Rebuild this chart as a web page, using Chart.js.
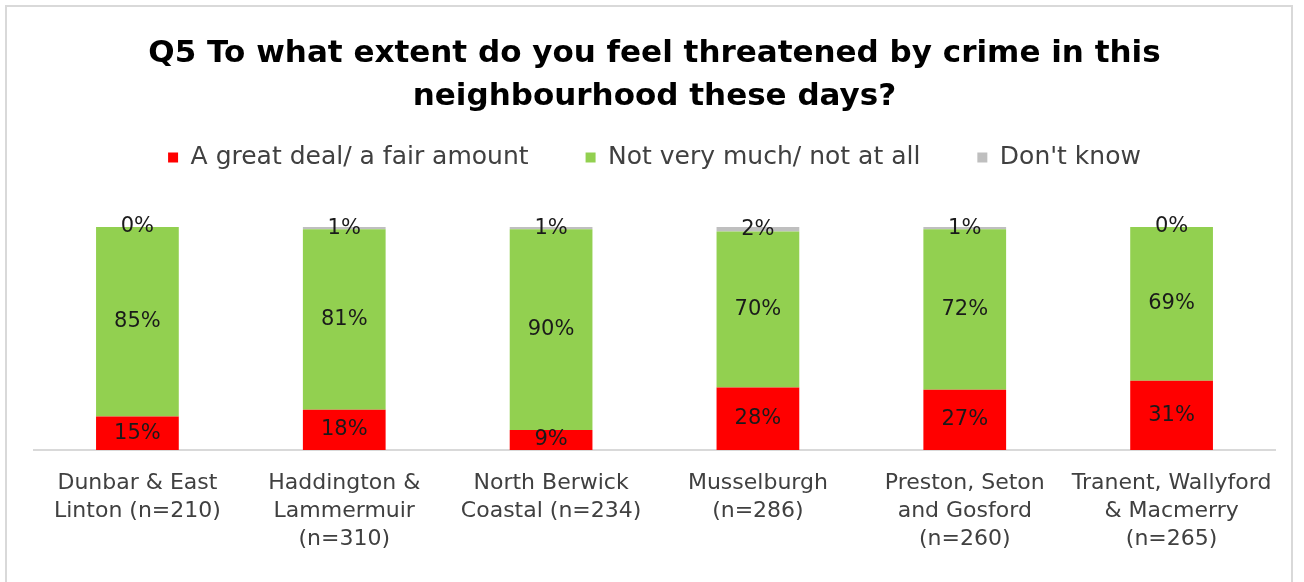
<!DOCTYPE html>
<html>
<head>
<meta charset="utf-8">
<script src="https://cdn.jsdelivr.net/npm/chart.js@4.4.1/dist/chart.umd.min.js"></script>
<style>
  html, body { margin: 0; padding: 0; background: #fff; overflow: hidden; }
  #frame {
    position: absolute; left: 5px; top: 5px; width: 1288px; height: 640px;
    border: 2px solid #d9d9d9; box-sizing: border-box;
  }
  #wrap { position: absolute; left: 0; top: 0; width: 1304px; height: 582px; }
</style>
</head>
<body>
<div id="frame"></div>
<div id="wrap"><canvas id="chart"></canvas></div>
<script>
// Areas surveyed (wrapped across lines as in the report)
const areas = [
  ['Dunbar & East', 'Linton (n=210)'],
  ['Haddington &', 'Lammermuir', '(n=310)'],
  ['North Berwick', 'Coastal (n=234)'],
  ['Musselburgh', '(n=286)'],
  ['Preston, Seton', 'and Gosford', '(n=260)'],
  ['Tranent, Wallyford', '& Macmerry', '(n=265)']
];

// Percentages per response
const greatDeal = [15, 18, 9, 28, 27, 31];
const notMuch   = [85, 81, 90, 70, 72, 69];
const dontKnow  = [0, 1, 1, 2, 1, 0];

const fontFamily = '"DejaVu Sans", sans-serif';

// Print the percentage in the middle of each bar segment
const segmentLabels = {
  id: 'segmentLabels',
  afterDatasetsDraw(chart) {
    const ctx = chart.ctx;
    ctx.save();
    ctx.font = '21px ' + fontFamily;
    ctx.fillStyle = '#1a1a1a';
    ctx.textAlign = 'center';
    ctx.textBaseline = 'middle';
    chart.data.datasets.forEach((ds, i) => {
      chart.getDatasetMeta(i).data.forEach((bar, j) => {
        const y = (bar.y + bar.base) / 2;
        ctx.fillText(ds.data[j] + '%', bar.x, y);
      });
    });
    ctx.restore();
  }
};

// Legend sits close under the title, with room left above the bars
const legendHeight = {
  id: 'legendHeight',
  beforeInit(chart) {
    const fit = chart.legend.fit;
    chart.legend.fit = function () {
      fit.call(this);
      this.height = 139;
    };
  }
};

new Chart(document.getElementById('chart'), {
  type: 'bar',
  data: {
    labels: areas,
    datasets: [
      { label: 'A great deal/ a fair amount', data: greatDeal, backgroundColor: '#ff0000' },
      { label: 'Not very much/ not at all', data: notMuch, backgroundColor: '#92d050' },
      { label: "Don't know", data: dontKnow, backgroundColor: '#bfbfbf' }
    ]
  },
  options: {
    responsive: true,
    maintainAspectRatio: false,
    animation: false,
    datasets: { bar: { categoryPercentage: 1, barPercentage: 0.4 } },
    layout: { padding: { left: 34, right: 29, top: 0, bottom: 18 } },
    plugins: {
      tooltip: { enabled: false },
      title: {
        display: true,
        text: ['Q5 To what extent do you feel threatened by crime in this', 'neighbourhood these days?'],
        color: '#000',
        font: { family: fontFamily, size: 31, weight: 'bold', lineHeight: 43 / 31 },
        padding: { top: 32, bottom: -30 }
      },
      legend: {
        position: 'top',
        labels: {
          boxWidth: 10,
          boxHeight: 10,
          padding: 57,
          color: '#404040',
          font: { family: fontFamily, size: 25 }
        }
      }
    },
    scales: {
      x: {
        stacked: true,
        grid: { display: false },
        border: { display: true, color: '#d9d9d9', width: 2 },
        ticks: {
          color: '#404040',
          padding: 11,
          maxRotation: 0,
          autoSkip: false,
          font: { family: fontFamily, size: 22, lineHeight: 28 / 22 }
        }
      },
      y: {
        stacked: true,
        display: false,
        min: 0,
        max: 100
      }
    }
  },
  plugins: [segmentLabels, legendHeight]
});
</script>
</body>
</html>
